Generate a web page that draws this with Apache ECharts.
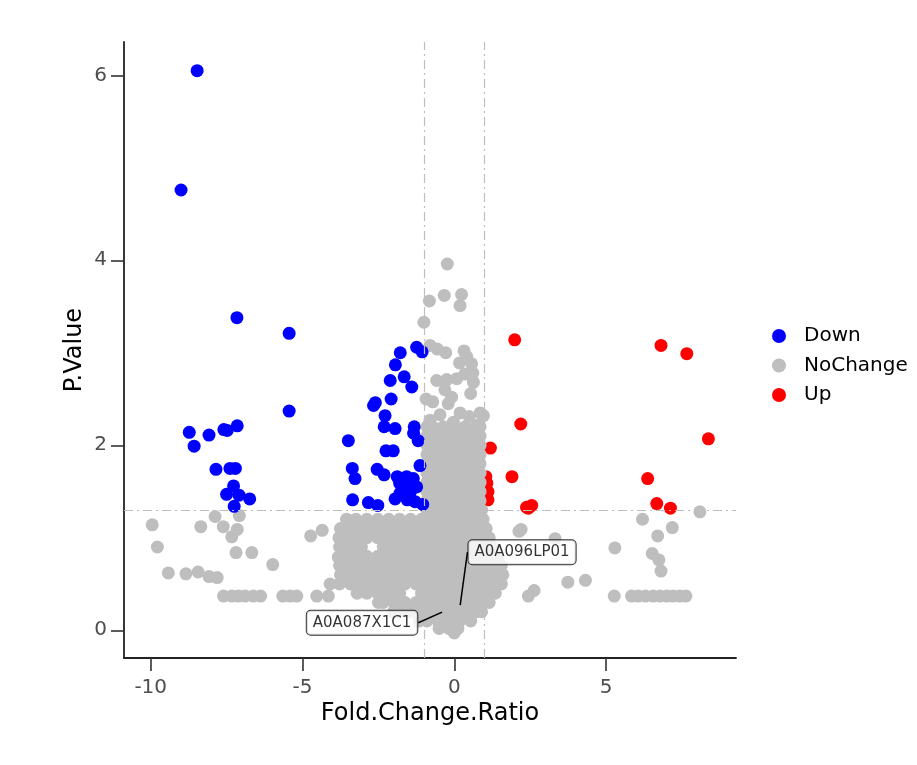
<!DOCTYPE html>
<html>
<head>
<meta charset="utf-8">
<title>Volcano</title>
<script src="https://cdn.jsdelivr.net/npm/echarts@6/dist/echarts.min.js"></script>
<style>
  html, body { margin: 0; padding: 0; background: #fff; }
  #chart { width: 917px; height: 765px; }
</style>
</head>
<body>
<div id="chart"></div>
<script>
// tick labels
var xTicks = [-10, -5, 0, 5];
var yTicks = [0, 2, 4, 6];
// cut-offs drawn as dot-dash lines
var fcCut = [-1, 1];
var pCut = 1.3;

// Down (blue)
var downPts = [
  [-8.47, 6.05], [-9.0, 4.76], [-7.16, 3.38], [-5.44, 3.21], [-5.44, 2.37],
  [-8.73, 2.14], [-8.57, 1.99], [-8.08, 2.11], [-7.59, 2.17], [-7.48, 2.16], [-7.15, 2.21],
  [-7.85, 1.74], [-7.39, 1.75], [-7.21, 1.75], [-7.27, 1.56], [-7.50, 1.47], [-7.09, 1.46],
  [-6.74, 1.42], [-7.25, 1.34],
  [-1.24, 3.06], [-1.06, 3.01], [-1.78, 3.0], [-1.94, 2.87], [-2.11, 2.70], [-1.65, 2.74],
  [-1.40, 2.63], [-2.60, 2.46], [-2.66, 2.43], [-2.08, 2.50], [-2.28, 2.32], [-2.31, 2.20],
  [-1.95, 2.18], [-1.32, 2.20], [-1.34, 2.13], [-1.19, 2.05], [-3.49, 2.05], [-2.25, 1.94],
  [-2.01, 1.94], [-3.36, 1.75], [-3.27, 1.64], [-2.54, 1.74], [-2.31, 1.68], [-1.88, 1.66],
  [-1.80, 1.59], [-1.59, 1.55], [-1.35, 1.64], [-1.13, 1.78], [-1.73, 1.51], [-1.46, 1.48],
  [-1.79, 1.48], [-1.57, 1.66], [-1.24, 1.55], [-3.35, 1.41], [-2.83, 1.38], [-2.52, 1.35],
  [-1.95, 1.42], [-1.55, 1.41], [-1.29, 1.39], [-1.04, 1.36]
];

// Up (red)
var upPts = [
  [1.99, 3.14], [6.81, 3.08], [7.66, 2.99], [2.19, 2.23], [8.37, 2.07], [1.19, 1.97],
  [1.04, 1.66], [1.90, 1.66], [6.37, 1.64], [1.07, 1.59], [1.11, 1.50], [1.11, 1.41],
  [2.44, 1.32], [2.55, 1.35], [6.67, 1.37], [7.12, 1.32], [2.38, 1.33]
];

// NoChange (grey), loose points
var flatPts = [
  [-0.23, 3.96], [-0.33, 3.62], [0.24, 3.63], [0.19, 3.51], [-0.82, 3.56], [-1.0, 3.33],
  [-0.80, 3.08], [-0.56, 3.04], [-0.28, 3.0], [0.32, 3.02], [0.17, 2.89], [0.41, 2.96],
  [0.57, 2.88], [0.61, 2.78], [0.35, 2.77], [-0.58, 2.70], [-0.25, 2.71], [0.08, 2.72],
  [0.63, 2.68], [-0.31, 2.60], [-0.09, 2.52], [0.54, 2.56], [-0.93, 2.50], [-0.71, 2.47],
  [-0.20, 2.45], [0.85, 2.35], [0.19, 2.35], [-0.47, 2.33], [0.49, 2.31], [0.79, 2.22],
  [-0.80, 2.27], [-0.03, 2.25], [0.96, 2.32],
  [-4.73, 1.02], [-4.35, 1.08], [-3.49, 1.19], [-3.82, 0.79], [-4.09, 0.50], [-4.15, 0.37],
  [-9.95, 1.14], [-9.78, 0.90], [-8.35, 1.12], [-7.88, 1.23], [-7.61, 1.12], [-7.33, 1.01],
  [-7.15, 1.09], [-7.08, 1.24], [-7.19, 0.84], [-6.67, 0.84], [-5.98, 0.71], [-9.42, 0.62],
  [-8.84, 0.61], [-8.44, 0.63], [-8.08, 0.58], [-7.81, 0.57],
  [-7.60, 0.37], [-7.33, 0.37], [-7.11, 0.37], [-6.89, 0.37], [-6.62, 0.37], [-6.38, 0.37],
  [-5.65, 0.37], [-5.41, 0.37], [-5.19, 0.37], [-4.53, 0.37],
  [8.09, 1.28], [6.20, 1.20], [7.18, 1.11], [6.70, 1.02], [5.29, 0.89], [6.52, 0.83],
  [6.74, 0.76], [6.81, 0.64], [3.32, 0.99], [3.74, 0.52], [4.32, 0.54], [2.20, 1.09],
  [2.13, 1.07], [2.44, 0.37], [2.63, 0.43], [5.27, 0.37],
  [5.84, 0.37], [6.06, 0.37], [6.30, 0.37], [6.55, 0.37], [6.78, 0.37], [7.00, 0.37],
  [7.21, 0.37], [7.43, 0.37], [7.63, 0.37]
];

// NoChange (grey), dense mass read row by row: [P.Value, [fold changes]]
var flatRows = [
  [2.2, [-0.9, -0.72, -0.36, 0, 0.36, 0.72, 0.85]],
  [2.1, [-0.9, -0.54, -0.18, 0.18, 0.54, 0.85]],
  [2.0, [-0.9, -0.72, -0.36, 0, 0.36, 0.72, 0.85]],
  [1.9, [-0.9, -0.54, -0.18, 0.18, 0.54, 0.85]],
  [1.8, [-0.9, -0.72, -0.36, 0, 0.36, 0.72, 0.85]],
  [1.7, [-0.9, -0.54, -0.18, 0.18, 0.54, 0.85]],
  [1.6, [-0.9, -0.72, -0.36, 0, 0.36, 0.72, 0.85]],
  [1.5, [-0.9, -0.54, -0.18, 0.18, 0.54, 0.85]],
  [1.4, [-0.9, -0.72, -0.36, 0, 0.36, 0.72, 0.85]],
  [1.3, [-0.9, -0.54, -0.18, 0.18, 0.54, 0.9]],
  [1.2, [-3.55, -3.24, -2.88, -2.52, -2.16, -1.8, -1.44, -1.08, -0.72, -0.36, 0, 0.36, 0.72, 0.95]],
  [1.1, [-3.75, -3.42, -3.06, -2.7, -2.34, -1.98, -1.62, -1.26, -0.9, -0.54, -0.18, 0.18, 0.54, 0.9, 1.05]],
  [1.0, [-3.8, -3.6, -3.24, -2.88, -2.52, -2.16, -1.8, -1.44, -1.08, -0.72, -0.36, 0, 0.36, 0.72, 1.08, 1.15]],
  [0.9, [-3.78, -3.42, -3.06, -2.34, -1.98, -1.62, -1.26, -0.9, -0.54, -0.18, 0.18, 0.54, 0.9, 1.25]],
  [0.8, [-3.75, -3.6, -3.24, -2.88, -2.52, -2.16, -1.8, -1.44, -1.08, -0.72, -0.36, 0, 0.36, 0.72, 1.08, 1.44]],
  [0.7, [-3.78, -3.42, -3.06, -2.7, -2.34, -1.98, -1.62, -1.26, -0.9, -0.54, -0.18, 0.18, 0.54, 0.9, 1.26, 1.55]],
  [0.6, [-3.75, -3.6, -3.24, -2.88, -2.52, -2.16, -1.8, -1.44, -1.08, -0.72, -0.36, 0, 0.36, 0.72, 1.08, 1.44, 1.6]],
  [0.5, [-3.78, -3.42, -3.06, -2.7, -2.34, -1.98, -1.62, -1.26, -0.9, -0.54, -0.18, 0.18, 0.54, 0.9, 1.26, 1.55]],
  [0.4, [-3.2, -2.88, -2.52, -2.16, -1.8, -1.08, -0.72, -0.36, 0, 0.36, 0.72, 1.08, 1.35]],
  [0.3, [-2.5, -2.34, -1.98, -1.62, -1.26, -0.9, -0.54, -0.18, 0.18, 0.54, 0.9, 1.15]],
  [0.2, [-2.0, -1.8, -1.44, -1.08, -0.72, -0.36, 0, 0.36, 0.72, 0.9]],
  [0.1, [-1.15, -0.9, -0.54, -0.18, 0.18, 0.54]],
  [0.02, [-0.5, -0.18, 0.12]],
  [-0.03, [0]]
];

// labelled proteins
var labelNames = ['A0A096LP01', 'A0A087X1C1'];
var labelPts = [[0.19, 0.26], [-0.37, 0.2]];

var flatData = flatPts.slice();
flatRows.forEach(function (row) {
    row[1].forEach(function (fc) {
        flatData.push([fc, row[0]]);
    });
});

var labelData = labelPts.map(function (p, i) {
    return { value: p, name: labelNames[i] };
});

var FONT = 'DejaVu Sans';
var dotSize = 13;

var chart = echarts.init(document.getElementById('chart'), null, { renderer: 'canvas' });

var cutLine = {
    silent: true,
    symbol: 'none',
    label: { show: false },
    lineStyle: { color: '#BEBEBE', width: 1.2, type: [9, 4, 2, 4] },
    data: [{ xAxis: fcCut[0] }, { xAxis: fcCut[1] }, { yAxis: pCut }]
};

var option = {
    animation: false,
    backgroundColor: '#fff',
    textStyle: { fontFamily: FONT },
    grid: { left: 124, right: 181, top: 42, bottom: 107 },
    legend: {
        orient: 'vertical',
        left: 767,
        top: 321,
        itemWidth: 40,
        itemHeight: 14,
        itemGap: 9.5,
        data: ['Down', 'NoChange', 'Up'],
        textStyle: { fontSize: 20, color: '#000', fontFamily: FONT }
    },
    xAxis: {
        type: 'value',
        min: -10.88,
        max: 9.28,
        name: 'Fold.Change.Ratio',
        nameLocation: 'middle',
        nameGap: 44,
        nameMoveOverlap: false,
        nameTextStyle: { fontSize: 24, color: '#000', fontFamily: FONT },
        axisLine: { show: true, onZero: false, lineStyle: { color: '#222', width: 1.8 } },
        axisTick: { show: true, length: 13, customValues: xTicks, lineStyle: { color: '#333', width: 1.6 } },
        axisLabel: { customValues: xTicks, margin: 20, fontSize: 20, color: '#4D4D4D', fontFamily: FONT },
        splitLine: { show: false }
    },
    yAxis: {
        type: 'value',
        min: -0.3,
        max: 6.36,
        name: 'P.Value',
        nameLocation: 'middle',
        nameGap: 37,
        nameMoveOverlap: false,
        nameTextStyle: { fontSize: 24, color: '#000', fontFamily: FONT },
        axisLine: { show: true, onZero: false, lineStyle: { color: '#222', width: 1.8 } },
        axisTick: { show: true, length: 13, customValues: yTicks, lineStyle: { color: '#333', width: 1.6 } },
        axisLabel: { customValues: yTicks, margin: 17, fontSize: 20, color: '#4D4D4D', fontFamily: FONT },
        splitLine: { show: false }
    },
    series: [
        {
            name: 'cut',
            type: 'scatter',
            data: [],
            z: 1,
            markLine: cutLine
        },
        {
            name: 'Up',
            type: 'scatter',
            z: 2,
            symbolSize: dotSize,
            itemStyle: { color: '#FF0000', opacity: 1 },
            data: upPts
        },
        {
            name: 'NoChange',
            type: 'scatter',
            z: 3,
            symbolSize: dotSize,
            itemStyle: { color: '#BEBEBE', opacity: 1 },
            data: flatData
        },
        {
            name: 'Down',
            type: 'scatter',
            z: 4,
            symbolSize: dotSize,
            itemStyle: { color: '#0000FF', opacity: 1 },
            data: downPts
        },
        {
            name: 'labels',
            type: 'scatter',
            z: 5,
            symbolSize: 2,
            itemStyle: { color: 'rgba(0,0,0,0)' },
            data: labelData,
            label: {
                show: true,
                position: 'inside',
                formatter: '{b}',
                fontSize: 15,
                color: '#000',
                fontFamily: FONT,
                backgroundColor: '#fff',
                borderColor: '#000',
                borderWidth: 1,
                borderRadius: 4,
                padding: [5, 6, 4, 6]
            },
            labelLine: {
                show: true,
                lineStyle: { color: '#000', width: 1.5 }
            },
            labelLayout: function (params) {
                // nudge the boxes away from the points, like ggrepel does
                return params.dataIndex === 0 ? { dx: 62, dy: -54 } : { dx: -81, dy: 11 };
            }
        }
    ]
};

chart.setOption(option);
</script>
</body>
</html>
